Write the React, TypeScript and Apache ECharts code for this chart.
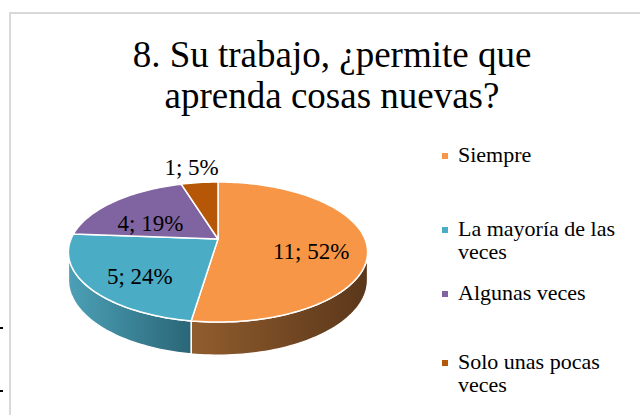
import React, { useEffect, useRef } from 'react';
import * as echarts from 'echarts';

const chartTitle = '8. Su trabajo, ¿permite que\naprenda cosas nuevas?';
const categories = ['Siempre', 'La mayoría de las veces', 'Algunas veces', 'Solo unas pocas veces'];
const legendLabels = ['Siempre', 'La mayoría de las\nveces', 'Algunas veces', 'Solo unas pocas\nveces'];
const values = [11, 5, 4, 1];
const topColors = ['#F79646', '#4BACC6', '#8064A2', '#B65708'];
const sideColors = [
  ['#915D2E', '#5A371A'],
  ['#4CA0B6', '#2A6677'],
  ['#6B5388', '#4A3A60'],
  ['#9A4A08', '#6A3305'],
];

const FONT = 'Liberation Serif';

// pseudo-3D projection of the pie disc (layout only)
const G = { cx: 218, cy: 239, A: 147, B: 67.6, k: 0.186, D: 27 };
function proj(deg: number, r = 1, drop = 0): number[] {
  const t = (deg * Math.PI) / 180;
  const u = r * Math.sin(t);
  const v = r * Math.cos(t);
  const d = 1 + G.k * v;
  return [G.cx + (G.A * u) / d, G.cy - (G.B * v) / d + (drop * G.D) / d];
}
function arc(a: number, b: number, drop = 0): number[][] {
  const n = Math.max(2, Math.ceil((b - a) / 1.5));
  const pts: number[][] = [];
  for (let j = 0; j <= n; j++) pts.push(proj(a + ((b - a) * j) / n, 1, drop));
  return pts;
}

const total = values.reduce((s, v) => s + v, 0);
const starts: number[] = [];
const ends: number[] = [];
{
  let acc = 0;
  values.forEach((v) => {
    starts.push((acc / total) * 360);
    acc += v;
    ends.push((acc / total) * 360);
  });
}
const silh = (Math.asin(G.k) * 180) / Math.PI;
const wallLo = 90 + silh;
const wallHi = 270 - silh;

export default function App() {
  const ref = useRef<HTMLDivElement>(null);
  useEffect(() => {
    if (!ref.current) return;
    const chart = echarts.init(ref.current, undefined, { renderer: 'svg' });
    const data = values.map((v, i) => [i, v]);

    const legendTops = [162, 236, 300, 369];
    const legendGraphics: any[] = [];
    legendLabels.forEach((lab, i) => {
      legendGraphics.push({
        type: 'rect',
        shape: { x: 442, y: legendTops[i] - 9, width: 6, height: 6 },
        style: { fill: topColors[i] },
      });
      legendGraphics.push({
        type: 'text',
        x: 458,
        y: legendTops[i] - 19,
        style: {
          text: lab,
          fontSize: 22,
          fontFamily: FONT,
          fill: '#000',
          lineHeight: 23,
          textAlign: 'left',
          textVerticalAlign: 'top',
        },
      });
    });

    chart.setOption({
      animation: false,
      backgroundColor: '#fff',
      textStyle: { fontFamily: FONT },
      graphic: [
        {
          type: 'rect',
          shape: { x: 10, y: 13, width: 700, height: 500 },
          style: { fill: 'none', stroke: '#d9d9d9', lineWidth: 2 },
          z: -1,
        },
        { type: 'rect', shape: { x: 0, y: 327, width: 3, height: 2 }, style: { fill: '#000' } },
        { type: 'rect', shape: { x: 0, y: 390, width: 3, height: 2 }, style: { fill: '#000' } },
        {
          type: 'text',
          x: 332,
          y: 34,
          style: {
            text: chartTitle,
            fontSize: 37,
            fontFamily: FONT,
            fill: '#000',
            lineHeight: 41,
            textAlign: 'center',
            textVerticalAlign: 'top',
          },
        },
        ...legendGraphics,
      ],
      series: [
        {
          type: 'custom',
          name: 'walls',
          coordinateSystem: 'none',
          silent: true,
          z: 1,
          data,
          renderItem: (params: any) => {
            const i = params.dataIndex;
            const a = Math.max(starts[i], wallLo);
            const b = Math.min(ends[i], wallHi);
            if (b <= a) return { type: 'group', children: [] };
            const top = arc(a, b, 0);
            const bot = arc(a, b, 1).reverse();
            return {
              type: 'polygon',
              shape: { points: top.concat(bot) },
              style: {
                fill: new echarts.graphic.LinearGradient(0, 0, 1, 0, [
                  { offset: 0, color: sideColors[i][0] },
                  { offset: 1, color: sideColors[i][1] },
                ]),
                stroke: '#fff',
                lineWidth: 1.5,
                lineJoin: 'round',
              },
            };
          },
        },
        {
          type: 'custom',
          name: 'tops',
          coordinateSystem: 'none',
          silent: true,
          z: 2,
          data,
          renderItem: (params: any) => {
            const i = params.dataIndex;
            const pts = [proj(0, 0)].concat(arc(starts[i], ends[i], 0));
            return {
              type: 'polygon',
              shape: { points: pts },
              style: { fill: topColors[i], stroke: '#fff', lineWidth: 1.5, lineJoin: 'round' },
            };
          },
        },
        {
          type: 'custom',
          name: 'labels',
          coordinateSystem: 'none',
          silent: true,
          z: 3,
          data,
          renderItem: (params: any) => {
            const i = params.dataIndex;
            const mid = (starts[i] + ends[i]) / 2;
            const pct = values[i] / total;
            const outside = pct < 0.1;
            const p = proj(mid, outside ? 1.33 : 0.63);
            const y = p[1] + (outside ? 0 : 9);
            return {
              type: 'text',
              x: p[0] - (outside ? 3 : 0),
              y,
              style: {
                text: `${values[i]}; ${Math.round(pct * 100)}%`,
                fontSize: 23,
                fontFamily: FONT,
                fill: '#000',
                textAlign: 'center',
                textVerticalAlign: 'middle',
                align: 'center',
                verticalAlign: 'middle',
              },
            };
          },
        },
      ],
    });
    return () => chart.dispose();
  }, []);
  return (
    <div
      ref={ref}
      style={{ position: 'fixed', left: 0, top: 0, width: 640, height: 415 }}
      aria-label={categories.join(', ')}
    />
  );
}
